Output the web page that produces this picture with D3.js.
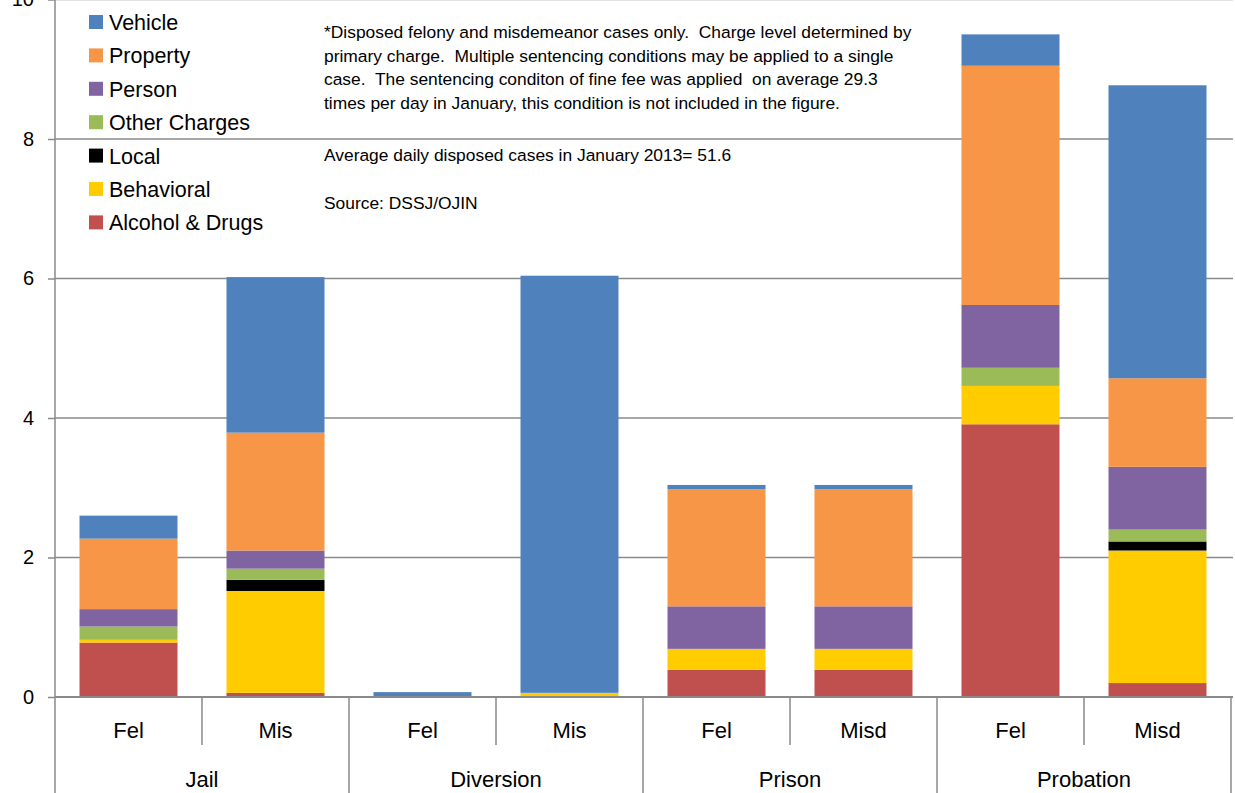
<!DOCTYPE html>
<html>
<head>
<meta charset="utf-8">
<script src="https://cdn.jsdelivr.net/npm/d3@7"></script>
<style>
  html, body { margin: 0; padding: 0; background: #fff; }
  svg { display: block; font-family: "Liberation Sans", Arial, sans-serif; }
  .note { white-space: pre; }
</style>
</head>
<body>
<svg id="chart" width="1235" height="793"></svg>
<script>
// ---- Data ----
const barLabels = ["Fel", "Mis", "Fel", "Mis", "Fel", "Misd", "Fel", "Misd"];
const groupLabels = ["Jail", "Diversion", "Prison", "Probation"];
const barsPerGroup = 2;

const seriesNames = ["Alcohol & Drugs", "Behavioral", "Local", "Other Charges", "Person", "Property", "Vehicle"];
const alcoholDrugs = [0.78, 0.06, 0.00, 0.00, 0.39, 0.39, 3.91, 0.20];
const behavioral   = [0.04, 1.46, 0.00, 0.06, 0.30, 0.30, 0.55, 1.90];
const local        = [0.00, 0.16, 0.00, 0.00, 0.00, 0.00, 0.00, 0.13];
const otherCharges = [0.19, 0.16, 0.00, 0.00, 0.00, 0.00, 0.26, 0.17];
const person       = [0.25, 0.26, 0.00, 0.00, 0.61, 0.61, 0.90, 0.90];
const property     = [1.01, 1.69, 0.00, 0.00, 1.68, 1.68, 3.43, 1.27];
const vehicle      = [0.33, 2.23, 0.07, 5.98, 0.06, 0.06, 0.45, 4.20];
const yTicks = [0, 2, 4, 6, 8, 10];

const legendOrder = ["Vehicle", "Property", "Person", "Other Charges", "Local", "Behavioral", "Alcohol & Drugs"];
const noteLines = [
  "*Disposed felony and misdemeanor cases only.  Charge level determined by",
  "primary charge.  Multiple sentencing conditions may be applied to a single",
  "case.  The sentencing conditon of fine fee was applied  on average 29.3",
  "times per day in January, this condition is not included in the figure."
];
const note2 = "Average daily disposed cases in January 2013= 51.6";
const note3 = "Source: DSSJ/OJIN";

// ---- Build ----
const seriesValues = [alcoholDrugs, behavioral, local, otherCharges, person, property, vehicle];
const colors = {
  "Alcohol & Drugs": "#C0504D",
  "Behavioral": "#FFCC00",
  "Local": "#000000",
  "Other Charges": "#9BBB59",
  "Person": "#8064A2",
  "Property": "#F79646",
  "Vehicle": "#4F81BD"
};

const table = barLabels.map((lab, i) => {
  const row = { idx: i };
  seriesNames.forEach((s, k) => row[s] = seriesValues[k][i]);
  return row;
});

const svg = d3.select("#chart");
const left = 55, right = 1231, y0px = 697, y10px = -0.5;
const gridColor = "#8a8a8a";

const x = d3.scaleBand().domain(d3.range(barLabels.length)).range([left, right])
  .paddingInner(1/3).paddingOuter(1/6);
const y = d3.scaleLinear().domain([0, 10]).range([y0px, y10px]);

// gridlines
svg.append("g").selectAll("line").data(yTicks.filter(d => d > 0)).join("line")
  .attr("x1", left).attr("x2", 1233)
  .attr("y1", d => y(d)).attr("y2", d => y(d))
  .attr("stroke", gridColor).attr("stroke-width", 1.5);

// y axis
const yAxis = d3.axisLeft(y).tickValues(yTicks).tickSize(7).tickPadding(14).tickFormat(d3.format("d"));
const yg = svg.append("g").attr("transform", `translate(${left},0)`).call(yAxis);
yg.select(".domain").remove();
yg.selectAll(".tick line").attr("stroke", gridColor).attr("stroke-width", 1.5);
yg.selectAll(".tick text").attr("font-size", 20).attr("fill", "#000")
  .attr("font-family", "Liberation Sans, Arial, sans-serif");

// stacked bars
const stack = d3.stack().keys(seriesNames);
const stacked = stack(table);
svg.append("g").selectAll("g").data(stacked).join("g")
  .attr("fill", d => colors[d.key])
  .selectAll("rect").data(d => d).join("rect")
  .attr("x", d => x(d.data.idx))
  .attr("width", x.bandwidth())
  .attr("y", d => y(d[1]))
  .attr("height", d => Math.max(0, y(d[0]) - y(d[1])));

// axis lines
svg.append("line").attr("x1", left).attr("x2", left).attr("y1", 0).attr("y2", 793)
  .attr("stroke", gridColor).attr("stroke-width", 1.5);
svg.append("line").attr("x1", left).attr("x2", 1233).attr("y1", y0px).attr("y2", y0px)
  .attr("stroke", gridColor).attr("stroke-width", 2);

// category dividers
const step = x.step();
const dividers = d3.range(barLabels.length + 1).map(i => ({ pos: left + i * step, major: i % barsPerGroup === 0 }));
svg.append("g").selectAll("line").data(dividers.filter(d => d.pos > left)).join("line")
  .attr("x1", d => d.pos).attr("x2", d => d.pos)
  .attr("y1", y0px).attr("y2", d => d.major ? 793 : 745)
  .attr("stroke", gridColor).attr("stroke-width", 1.5);

// bar labels
svg.append("g").selectAll("text").data(barLabels).join("text")
  .attr("x", (d, i) => x(i) + x.bandwidth() / 2)
  .attr("y", 738)
  .attr("text-anchor", "middle").attr("font-size", 22).attr("fill", "#000")
  .text(d => d);

// group labels
svg.append("g").selectAll("text").data(groupLabels).join("text")
  .attr("x", (d, i) => left + (i * barsPerGroup + barsPerGroup / 2) * step)
  .attr("y", 787)
  .attr("text-anchor", "middle").attr("font-size", 22).attr("fill", "#000")
  .text(d => d);

// legend
const lg = svg.append("g");
legendOrder.forEach((name, i) => {
  const cy = 22 + i * 33.4;
  lg.append("rect").attr("x", 89).attr("y", cy - 7).attr("width", 14).attr("height", 14)
    .attr("fill", colors[name]);
  lg.append("text").attr("x", 109).attr("y", cy + 8)
    .attr("font-size", 21.5).attr("fill", "#000").text(name);
});

// notes
const ng = svg.append("g").attr("font-size", 17.4).attr("fill", "#000");
noteLines.forEach((t, i) => {
  ng.append("text").attr("class", "note").attr("x", 324).attr("y", 38 + i * 23.5).text(t);
});
ng.append("text").attr("class", "note").attr("x", 324).attr("y", 161).text(note2);
ng.append("text").attr("class", "note").attr("x", 324).attr("y", 209).text(note3);
</script>
</body>
</html>
